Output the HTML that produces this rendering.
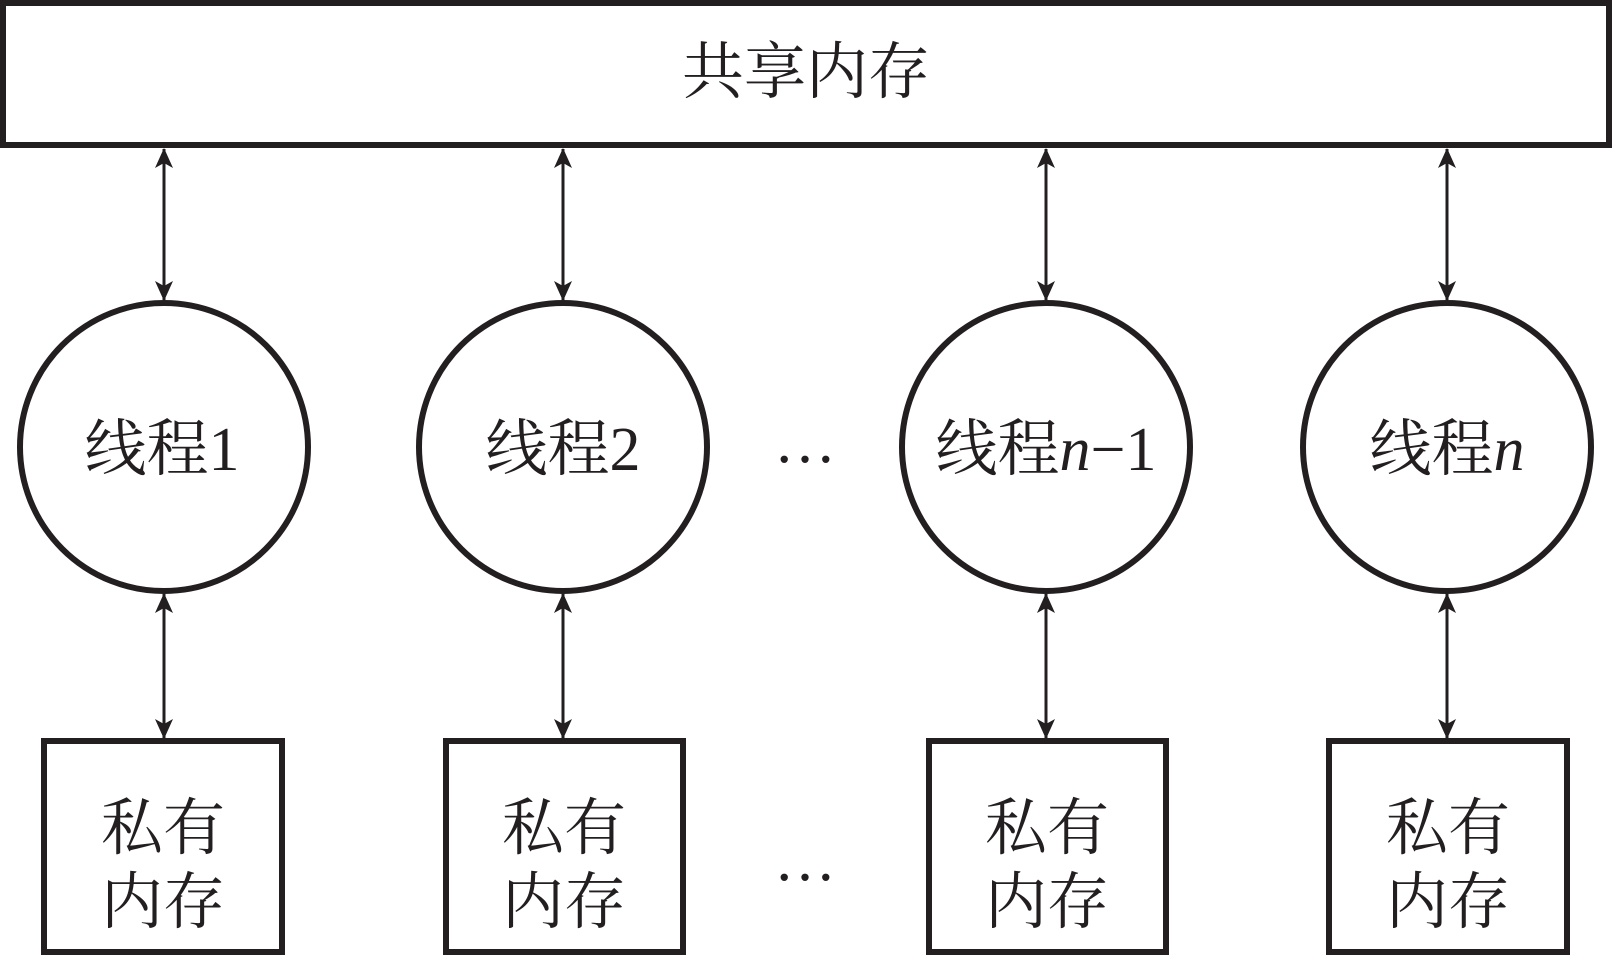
<!DOCTYPE html>
<html><head><meta charset="utf-8"><style>
html,body{margin:0;padding:0;background:#fff;}
svg text{font-family:"Liberation Serif","Noto Serif CJK SC",serif;fill:#231f20;}
</style></head><body>
<svg width="1612" height="958" viewBox="0 0 1612 958" xmlns="http://www.w3.org/2000/svg">
<defs>
<marker id="a" viewBox="0 0 20 32" refX="19" refY="16" markerWidth="20" markerHeight="32" markerUnits="userSpaceOnUse" orient="auto-start-reverse">
<path d="M0,7 L20,16 L0,25 L5,16 Z" fill="#231f20"/>
</marker>
</defs>
<g stroke="#231f20" fill="none">
<rect x="3" y="3" width="1606" height="142" stroke-width="6"/>
<circle cx="164" cy="447" r="144" stroke-width="6"/>
<circle cx="563" cy="447" r="144" stroke-width="6"/>
<circle cx="1046" cy="447" r="144" stroke-width="6"/>
<circle cx="1447" cy="447" r="144" stroke-width="6"/>
<rect x="44" y="741" width="238" height="211" stroke-width="6"/>
<rect x="446" y="741" width="237" height="211" stroke-width="6"/>
<rect x="929" y="741" width="237" height="211" stroke-width="6"/>
<rect x="1329" y="741" width="238" height="211" stroke-width="6"/>
<g stroke-width="3" marker-start="url(#a)" marker-end="url(#a)">
<line x1="164" y1="149" x2="164" y2="300"/>
<line x1="563" y1="149" x2="563" y2="300"/>
<line x1="1046" y1="149" x2="1046" y2="300"/>
<line x1="1447" y1="149" x2="1447" y2="300"/>
<line x1="164" y1="594" x2="164" y2="738"/>
<line x1="563" y1="594" x2="563" y2="738"/>
<line x1="1046" y1="594" x2="1046" y2="738"/>
<line x1="1447" y1="594" x2="1447" y2="738"/>
</g>
</g>
<g font-size="62" text-anchor="middle">
<text x="806" y="93">共享内存</text>
<text x="162" y="470">线程1</text>
<text x="563" y="470">线程2</text>
<text x="1046" y="470">线程<tspan font-style="italic">n</tspan>−1</text>
<text x="1447" y="470">线程<tspan font-style="italic">n</tspan></text>
<text x="805" y="462">…</text>
<text x="805" y="880">…</text>
<text x="163" y="849">私有</text><text x="163" y="923">内存</text>
<text x="564" y="849">私有</text><text x="564" y="923">内存</text>
<text x="1047" y="849">私有</text><text x="1047" y="923">内存</text>
<text x="1448" y="849">私有</text><text x="1448" y="923">内存</text>
</g>
</svg>
</body></html>
